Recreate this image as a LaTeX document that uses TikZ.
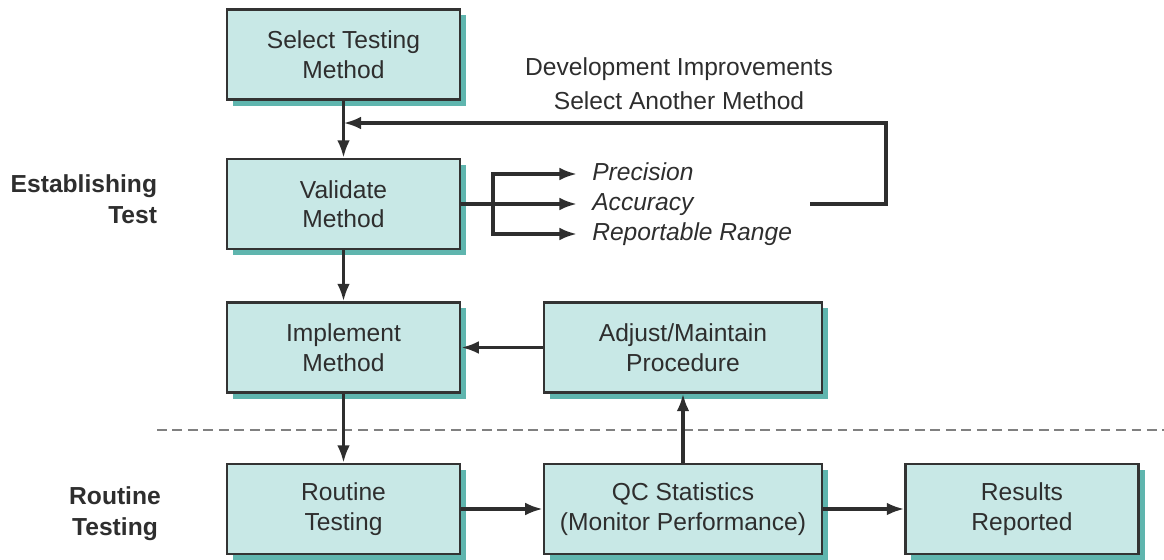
\documentclass[tikz,border=0pt]{standalone}
\usepackage{fontspec}
\setmainfont{Liberation Sans}
\usetikzlibrary{arrows.meta,shadows}

\definecolor{boxfill}{HTML}{C8E8E6}
\definecolor{boxshade}{HTML}{5FB5AE}
\definecolor{boxline}{HTML}{333333}
\definecolor{txt}{HTML}{2E2E2E}

\tikzset{
  stage/.style={draw=boxline, line width=1.6pt, fill=boxfill, align=center,
    text=txt, minimum height=2.25cm,
    font=\fontsize{17.5}{21}\selectfont,
    drop shadow={shadow xshift=0.15cm, shadow yshift=-0.15cm, fill=boxshade, opacity=1}},
  narrow/.style={stage, minimum width=5.825cm},
  wide/.style={stage, minimum width=6.95cm},
  conn/.style={draw=txt, line width=2.4pt, -{Latex[length=4.4mm,width=3.2mm]}},
  check/.style={anchor=west, inner xsep=0.375cm, inner ysep=0pt, text=txt,
    text height=2.0ex, text depth=0.2ex,
    font=\fontsize{17.5}{21}\selectfont\itshape},
  phase/.style={align=center, text=txt, font=\fontsize{17.5}{22}\selectfont\bfseries},
}

\begin{document}
\begin{tikzpicture}[x=0.025cm, y=-0.025cm]
\useasboundingbox (0,0) rectangle (1164,559);
% boxes
\node[narrow] (sel) at (343.5,54.5) {Select Testing\\Method};
\node[narrow] (val) at (343.5,204) {Validate\\Method};
\node[narrow] (imp) at (343.5,347.5) {Implement\\Method};
\node[wide] (adj) at (683,347.5) {Adjust/Maintain\\Procedure};
\node[narrow] (rout) at (343.5,509) {Routine\\Testing};
\node[wide] (qc) at (683,509) {QC Statistics\\(Monitor Performance)};
\node[narrow] (res) at (1022,509) {Results\\Reported};
% side labels
\node[phase, anchor=east, align=right] (est) at (162,199) {Establishing\\Test};
\node[phase] (rtn) at (115,514) {Routine\\Testing};
\node[align=center, text=txt, font=\fontsize{17.5}{24}\selectfont] (dev) at (679,84) {Development Improvements\\Select Another Method};
% validation checks
\node[check] (prec) at (577,174) {Precision};
\node[check] (acc) at (577,204) {Accuracy};
\node[check] (rng) at (577,234) {Reportable Range};
\coordinate (br) at (493,204);
\coordinate (fbA) at (810,204);
\coordinate (fbB) at (886,123);
% separator
\draw[gray, line width=1.3pt, dash pattern=on 7pt off 4pt] (157,430) -- (1164,430);
% connectors
\draw[conn] (sel.south) -- (val.north);
\draw[conn] (fbA) -| (fbB) -- (sel.south |- fbB);
\draw[conn] (val.east) -- (acc.west);
\draw[conn] (br) |- (prec.west);
\draw[conn] (br) |- (rng.west);
\draw[conn] (val.south) -- (imp.north);
\draw[conn] (adj.west) -- (imp.east);
\draw[conn] (imp.south) -- (rout.north);
\draw[conn] (qc.north) -- (adj.south);
\draw[conn] (rout.east) -- (qc.west);
\draw[conn] (qc.east) -- (res.west);
\end{tikzpicture}
\end{document}
